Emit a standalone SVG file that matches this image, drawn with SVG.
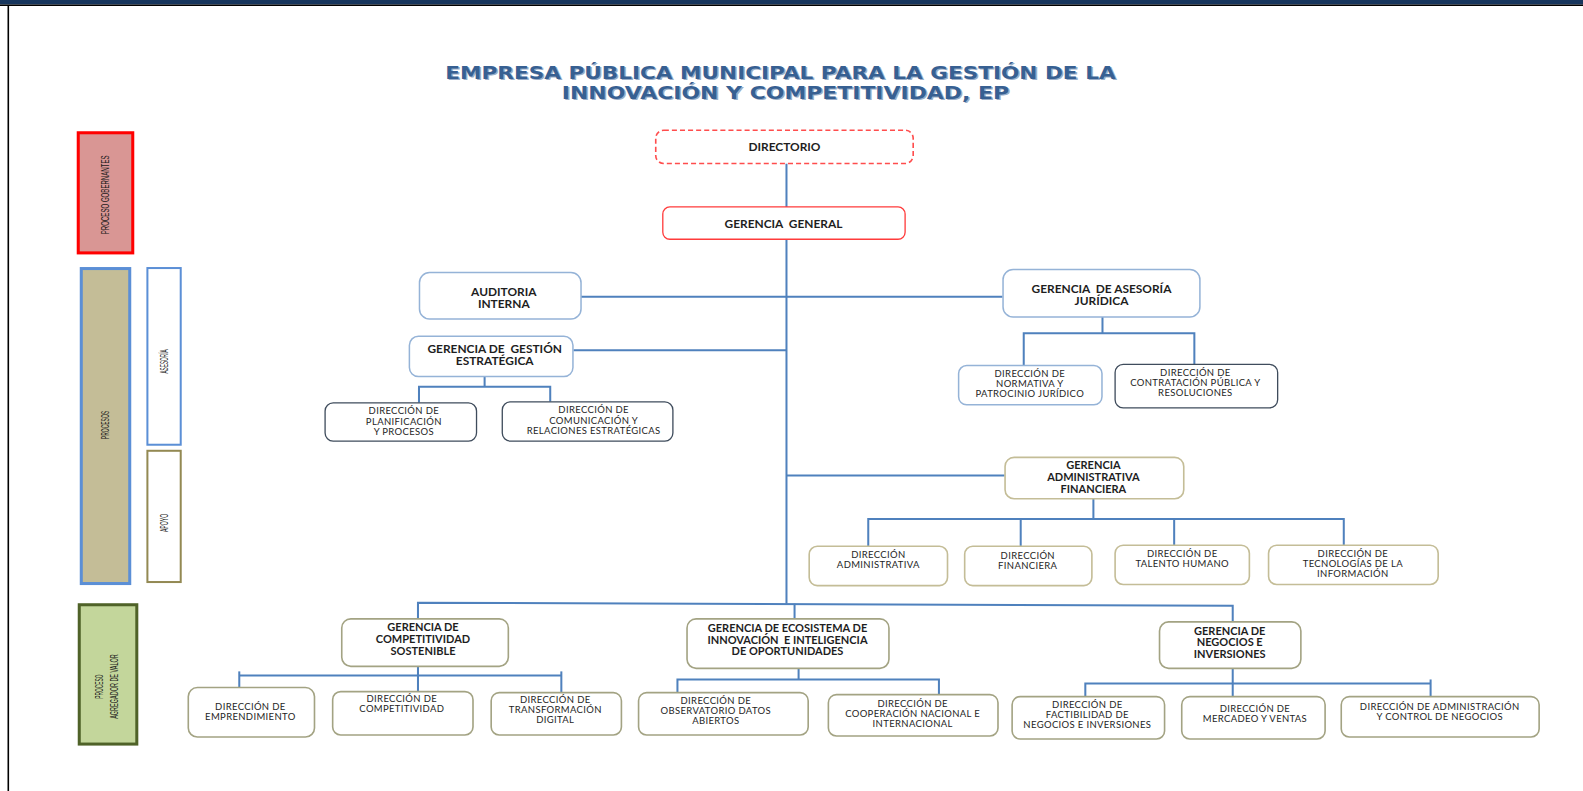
<svg xmlns="http://www.w3.org/2000/svg" width="1583" height="791" viewBox="0 0 1583 791">
<style>
.t{font-family:Lato,"Liberation Sans",sans-serif;fill:#1e1e1e;text-anchor:middle;white-space:pre}
.g{font-size:11.8px;font-weight:bold}
.g3{font-size:10.9px;font-weight:bold}
.d{font-size:9.4px;letter-spacing:0.35px}
.side{font-family:"Liberation Sans",sans-serif;font-size:10.5px;fill:#1a1a1a;text-anchor:middle}
.conn{stroke:#4f81bd;stroke-width:2;fill:none}
.blue{fill:#fff;stroke:#95b3d7;stroke-width:1.5}
.dark{fill:#fff;stroke:#3f4c5c;stroke-width:1.3}
.tan{fill:#fff;stroke:#c4bd97;stroke-width:1.6}
.olv{fill:#fff;stroke:#a3a383;stroke-width:1.6}
.title{font-family:"DejaVu Sans","Liberation Sans",sans-serif;font-weight:bold;font-size:17px;fill:#376092;text-anchor:middle}
</style>
<rect x="0" y="0" width="1583" height="791" fill="#fff"/>
<rect x="0" y="0" width="1583" height="4.5" fill="#17365d"/>
<line x1="0" y1="5.2" x2="1583" y2="5.2" stroke="#000" stroke-width="1.6"/>
<line x1="8.3" y1="5" x2="8.3" y2="791" stroke="#000" stroke-width="1.6"/>
<g transform="scale(1.0096)">
<g id="title">
<text class="title" x="774.5" y="79.5" textLength="664" lengthAdjust="spacingAndGlyphs" fill="#9fb6d3" opacity="0.5">EMPRESA PÚBLICA MUNICIPAL PARA LA GESTIÓN DE LA</text>
<text class="title" x="773" y="78" textLength="664" lengthAdjust="spacingAndGlyphs">EMPRESA PÚBLICA MUNICIPAL PARA LA GESTIÓN DE LA</text>
<text class="title" x="779.5" y="99.5" textLength="443" lengthAdjust="spacingAndGlyphs" fill="#9fb6d3" opacity="0.5">INNOVACIÓN Y COMPETITIVIDAD, EP</text>
<text class="title" x="778" y="98" textLength="443" lengthAdjust="spacingAndGlyphs">INNOVACIÓN Y COMPETITIVIDAD, EP</text>
</g>

<g id="side-gobernantes">
<rect x="77.5" y="131.5" width="54" height="119" fill="#d99694" stroke="#ff0000" stroke-width="3"/>
<text class="side" transform="translate(107.5,193) rotate(-90)" textLength="78" lengthAdjust="spacingAndGlyphs">PROCESO GOBERNANTES</text>
</g>
<g id="side-procesos">
<rect x="80.5" y="266" width="48" height="312" fill="#c4bd97" stroke="#5b8fd6" stroke-width="3"/>
<text class="side" transform="translate(107.5,421) rotate(-90)" textLength="28" lengthAdjust="spacingAndGlyphs">PROCESOS</text>
</g>
<g id="side-asesoria">
<rect x="146" y="265.5" width="33" height="175" fill="#fff" stroke="#5b8fd6" stroke-width="2"/>
<text class="side" transform="translate(166.5,358) rotate(-90)" textLength="24" lengthAdjust="spacingAndGlyphs">ASESORÍA</text>
</g>
<g id="side-apoyo">
<rect x="146" y="446.5" width="33" height="130" fill="#fff" stroke="#938953" stroke-width="2"/>
<text class="side" transform="translate(166.5,518) rotate(-90)" textLength="18" lengthAdjust="spacingAndGlyphs">APOYO</text>
</g>
<g id="side-agregador">
<rect x="78.5" y="599" width="57" height="138" fill="#c3d69b" stroke="#4f6228" stroke-width="3"/>
<text class="side" transform="translate(102.5,680) rotate(-90)" textLength="24" lengthAdjust="spacingAndGlyphs">PROCESO</text>
<text class="side" transform="translate(116.5,680) rotate(-90)" textLength="64" lengthAdjust="spacingAndGlyphs">AGREGADOR DE VALOR</text>
</g>

<g id="connectors">
<line class="conn" x1="779" y1="162" x2="779" y2="598"/>
<line class="conn" x1="575" y1="294" x2="993" y2="294"/>
<line class="conn" x1="568" y1="347" x2="779" y2="347"/>
<polyline class="conn" points="480,373 480,383"/>
<polyline class="conn" points="415,399 415,383 545,383 545,398"/>
<polyline class="conn" points="1092,314 1092,330"/>
<polyline class="conn" points="1014,362 1014,330 1183,330 1183,361"/>
<line class="conn" x1="779" y1="471" x2="995" y2="471"/>
<polyline class="conn" points="1083,494 1083,514"/>
<polyline class="conn" points="860,541 860,514 1331,514 1331,540"/>
<line class="conn" x1="1011" y1="514" x2="1011" y2="544"/>
<line class="conn" x1="1163" y1="514" x2="1163" y2="540"/>
<polyline class="conn" points="414,613 414,597 1221,600 1221,616"/>
<line class="conn" x1="787" y1="598" x2="787" y2="613"/>
<polyline class="conn" points="414,660 414,685"/>
<line class="conn" x1="237" y1="669" x2="556" y2="669"/>
<line class="conn" x1="237" y1="665" x2="237" y2="681"/>
<line class="conn" x1="556" y1="665" x2="556" y2="686"/>
<polyline class="conn" points="791,662 791,673"/>
<polyline class="conn" points="671,686 671,673 930,673 930,688"/>
<polyline class="conn" points="1221,662 1221,690"/>
<polyline class="conn" points="1075,690 1075,677 1417,677"/>
<line class="conn" x1="1417" y1="673" x2="1417" y2="690"/>
</g>

<g id="directorio">
<rect x="649.5" y="129" width="255" height="33" rx="8" fill="#fff" stroke="#ff4d4d" stroke-width="1.6" stroke-dasharray="5,3"/>
<text class="t g" x="777" y="149.5">DIRECTORIO</text>
</g>
<g id="gerencia-general">
<rect x="656.5" y="205" width="240" height="32" rx="7" fill="#fff" stroke="#ff3b3b" stroke-width="1.3"/>
<text class="t g" x="776" y="225.5">GERENCIA  GENERAL</text>
</g>
<g id="auditoria">
<rect x="415.5" y="270" width="160" height="46" rx="10" class="blue"/>
<text class="t g" x="499" y="293.5">AUDITORIA</text>
<text class="t g" x="499" y="305.5">INTERNA</text>
</g>
<g id="gerencia-gestion">
<rect x="405.5" y="333" width="162" height="40" rx="9" class="blue"/>
<text class="t g" x="490" y="349.5">GERENCIA DE  GESTIÓN</text>
<text class="t g" x="490" y="361.5">ESTRATÉGICA</text>
</g>
<g id="dir-planificacion">
<rect x="322" y="399" width="150" height="38" rx="8" class="dark"/>
<text class="t d" x="400" y="410.5">DIRECCIÓN DE</text>
<text class="t d" x="400" y="420.5">PLANIFICACIÓN</text>
<text class="t d" x="400" y="430.5">Y PROCESOS</text>
</g>
<g id="dir-comunicacion">
<rect x="497.5" y="398" width="169" height="39" rx="8" class="dark"/>
<text class="t d" x="588" y="409.5">DIRECCIÓN DE</text>
<text class="t d" x="588" y="419.5">COMUNICACIÓN Y</text>
<text class="t d" x="588" y="429.5">RELACIONES ESTRATÉGICAS</text>
</g>
<g id="gerencia-juridica">
<rect x="993.5" y="267" width="195" height="47" rx="10" class="blue"/>
<text class="t g" x="1091" y="290.5">GERENCIA  DE ASESORÍA</text>
<text class="t g" x="1091" y="302.5">JURÍDICA</text>
</g>
<g id="dir-normativa">
<rect x="949.5" y="362" width="142" height="39" rx="8" class="blue"/>
<text class="t d" x="1020" y="373.5">DIRECCIÓN DE</text>
<text class="t d" x="1020" y="383.5">NORMATIVA Y</text>
<text class="t d" x="1020" y="393.5">PATROCINIO JURÍDICO</text>
</g>
<g id="dir-contratacion">
<rect x="1104.5" y="361" width="161" height="43" rx="8" class="dark"/>
<text class="t d" x="1184" y="372.5">DIRECCIÓN DE</text>
<text class="t d" x="1184" y="382.5">CONTRATACIÓN PÚBLICA Y</text>
<text class="t d" x="1184" y="392.5">RESOLUCIONES</text>
</g>
<g id="gerencia-administrativa">
<rect x="995.5" y="453" width="177" height="41" rx="9" class="tan"/>
<text class="t g3" x="1083" y="465">GERENCIA</text>
<text class="t g3" x="1083" y="476.5">ADMINISTRATIVA</text>
<text class="t g3" x="1083" y="488">FINANCIERA</text>
</g>
<g id="dir-administrativa">
<rect x="801.5" y="541" width="137" height="39" rx="8" class="tan"/>
<text class="t d" x="870" y="552.5">DIRECCIÓN</text>
<text class="t d" x="870" y="562.5">ADMINISTRATIVA</text>
</g>
<g id="dir-financiera">
<rect x="955.5" y="541" width="126" height="39" rx="8" class="tan"/>
<text class="t d" x="1018" y="553.5">DIRECCIÓN</text>
<text class="t d" x="1018" y="563.5">FINANCIERA</text>
</g>
<g id="dir-talento">
<rect x="1104.5" y="540" width="133" height="39" rx="8" class="tan"/>
<text class="t d" x="1171" y="551.5">DIRECCIÓN DE</text>
<text class="t d" x="1171" y="561.5">TALENTO HUMANO</text>
</g>
<g id="dir-tecnologias">
<rect x="1256.5" y="540" width="168" height="39" rx="8" class="tan"/>
<text class="t d" x="1340" y="551.5">DIRECCIÓN DE</text>
<text class="t d" x="1340" y="561.5">TECNOLOGÍAS DE LA</text>
<text class="t d" x="1340" y="571.5">INFORMACIÓN</text>
</g>
<g id="gerencia-competitividad">
<rect x="338.5" y="613" width="165" height="47" rx="9" class="olv"/>
<text class="t g3" x="419" y="625.5">GERENCIA DE</text>
<text class="t g3" x="419" y="637">COMPETITIVIDAD</text>
<text class="t g3" x="419" y="648.5">SOSTENIBLE</text>
</g>
<g id="gerencia-ecosistema">
<rect x="680.5" y="613" width="200" height="49" rx="9" class="olv"/>
<text class="t g3" x="780" y="626">GERENCIA DE ECOSISTEMA DE</text>
<text class="t g3" x="780" y="637.5">INNOVACIÓN  E INTELIGENCIA</text>
<text class="t g3" x="780" y="649">DE OPORTUNIDADES</text>
</g>
<g id="gerencia-negocios">
<rect x="1148.5" y="616" width="140" height="46" rx="9" class="olv"/>
<text class="t g3" x="1218" y="628.5">GERENCIA DE</text>
<text class="t g3" x="1218" y="640">NEGOCIOS E</text>
<text class="t g3" x="1218" y="651.5">INVERSIONES</text>
</g>
<g id="dir-emprendimiento">
<rect x="186.5" y="681" width="125" height="49" rx="9" class="olv"/>
<text class="t d" x="248" y="703.5">DIRECCIÓN DE</text>
<text class="t d" x="248" y="713.5">EMPRENDIMIENTO</text>
</g>
<g id="dir-competitividad">
<rect x="329.5" y="685" width="139" height="43" rx="8" class="olv"/>
<text class="t d" x="398" y="695.5">DIRECCIÓN DE</text>
<text class="t d" x="398" y="705.5">COMPETITIVIDAD</text>
</g>
<g id="dir-transformacion">
<rect x="486.5" y="686" width="129" height="42" rx="8" class="olv"/>
<text class="t d" x="550" y="696.5">DIRECCIÓN DE</text>
<text class="t d" x="550" y="706.5">TRANSFORMACIÓN</text>
<text class="t d" x="550" y="716.5">DIGITAL</text>
</g>
<g id="dir-observatorio">
<rect x="632.5" y="686" width="168" height="42" rx="8" class="olv"/>
<text class="t d" x="709" y="697.5">DIRECCIÓN DE</text>
<text class="t d" x="709" y="707.5">OBSERVATORIO DATOS</text>
<text class="t d" x="709" y="717.5">ABIERTOS</text>
</g>
<g id="dir-cooperacion">
<rect x="820.5" y="688" width="168" height="41" rx="8" class="olv"/>
<text class="t d" x="904" y="700.5">DIRECCIÓN DE</text>
<text class="t d" x="904" y="710.5">COOPERACIÓN NACIONAL E</text>
<text class="t d" x="904" y="720.5">INTERNACIONAL</text>
</g>
<g id="dir-factibilidad">
<rect x="1002.5" y="690" width="151" height="42" rx="8" class="olv"/>
<text class="t d" x="1077" y="701.5">DIRECCIÓN DE</text>
<text class="t d" x="1077" y="711.5">FACTIBILIDAD DE</text>
<text class="t d" x="1077" y="721.5">NEGOCIOS E INVERSIONES</text>
</g>
<g id="dir-mercadeo">
<rect x="1170.5" y="690" width="142" height="42" rx="8" class="olv"/>
<text class="t d" x="1243" y="705.5">DIRECCIÓN DE</text>
<text class="t d" x="1243" y="715.5">MERCADEO Y VENTAS</text>
</g>
<g id="dir-administracion">
<rect x="1328.5" y="690" width="196" height="40" rx="8" class="olv"/>
<text class="t d" x="1426" y="703.5">DIRECCIÓN DE ADMINISTRACIÓN</text>
<text class="t d" x="1426" y="713.5">Y CONTROL DE NEGOCIOS</text>
</g>
</g>
</svg>
